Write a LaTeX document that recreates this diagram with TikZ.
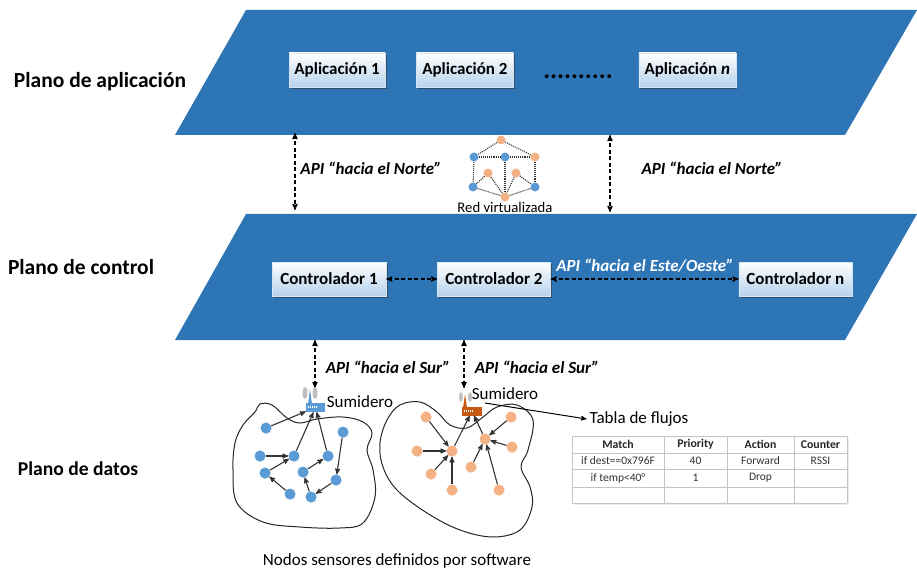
\documentclass[tikz,border=0pt]{standalone}
\usepackage{fontspec}
\setmainfont{Carlito}
\usetikzlibrary{arrows,positioning,shadows}
\definecolor{plane}{HTML}{2E75B6}
\definecolor{sblue}{HTML}{5B9BD5}
\definecolor{sorange}{HTML}{F4B183}
\definecolor{sdark}{HTML}{C55A11}
\definecolor{grid}{HTML}{BFC5CC}
\tikzstyle{layer}=[fill=plane, draw=none]
\tikzstyle{box}=[draw=white!75!sblue, top color=white, bottom color=sblue!45, drop shadow={shadow xshift=1.5pt, shadow yshift=-2pt, fill=black!80, opacity=.6}, minimum height=34pt, inner sep=0pt, font=\fontsize{17}{20}\selectfont\bfseries]
\tikzstyle{title}=[font=\fontsize{21.5}{24}\selectfont\bfseries, inner sep=0pt]
\tikzstyle{api}=[font=\fontsize{17}{20}\selectfont\bfseries\itshape, inner sep=0pt]
\tikzstyle{plain}=[font=\fontsize{17}{20}\selectfont, inner sep=0pt]
\tikzstyle{cell}=[font=\fontsize{11.5}{13}\selectfont, inner sep=0pt, text=black!80]
\tikzstyle{head}=[font=\fontsize{11.8}{13}\selectfont\bfseries, inner sep=0pt, text=black!85]
\tikzstyle{sb}=[circle, fill=sblue, inner sep=0pt, minimum size=11pt, drop shadow={shadow xshift=.5pt, shadow yshift=-1pt, fill=sblue!30}]
\tikzstyle{so}=[circle, fill=sorange, inner sep=0pt, minimum size=11pt, drop shadow={shadow xshift=.5pt, shadow yshift=-1pt, fill=sorange!30}]
\tikzstyle{vb}=[circle, fill=sblue, inner sep=0pt, minimum size=9pt]
\tikzstyle{vo}=[circle, fill=sorange, inner sep=0pt, minimum size=9pt]
\tikzstyle{link}=[draw=black!80, line width=1.1pt]
\tikzstyle{api link}=[<->, dash pattern=on 4pt off 2.5pt, line width=1.2pt]
\tikzstyle{virt}=[-, densely dotted, line width=1.1pt, draw=black!80]
\begin{document}
\begin{tikzpicture}[x=1pt, y=-1pt, >=stealth', node distance=1cm]
\useasboundingbox (0,0) rectangle (917,569);
%
  \fill[layer] (246,10) -- (917,10) -- (845,135) -- (175,135) -- cycle;
  \fill[layer] (246,214) -- (917,214) -- (845,340) -- (175,340) -- cycle;
%
  \node[title] at (100,82) {Plano de aplicación};
  \node[title] at (81,267) {Plano de control};
  \node[title, font=\fontsize{19.6}{24}\selectfont\bfseries] at (78,469) {Plano de datos};
%
  \node[box, minimum width=96pt] (a1) at (337,70) {Aplicación 1};
  \node[box, minimum width=97pt] (a2) [right = 31pt of a1] {Aplicación 2};
  \node[box, minimum width=97pt] (an) [right = 125pt of a2] {Aplicación \textit{n}};
  \node[inner sep=0pt, font=\fontsize{26}{26}\selectfont\bfseries] (dots) at (578,77) {..........};
  \node[box, minimum width=114pt] (c1) at (329,279) {Controlador 1};
  \node[box, minimum width=113pt] (c2) [right = 51pt of c1] {Controlador 2};
  \node[box, minimum width=113pt] (cn) [right = 188pt of c2] {Controlador n};
%
  \coordinate (na) at (295,133);
  \coordinate (nb) at (295,210);
  \coordinate (nc) at (610,135);
  \coordinate (nd) at (610,212);
  \coordinate (sa) at (315,340);
  \coordinate (sb) at (315,388);
  \coordinate (sc) at (464,340);
  \coordinate (sd) at (464,388);
  \path[api link]
  (na) edge (nb)
  (nc) edge (nd)
  (sa) edge (sb)
  (sc) edge (sd)
  (c1) edge (c2)
  (c2) edge (cn);
%
  \node[api] at (371,168) {API “hacia el Norte”};
  \node[api] at (712,168) {API “hacia el Norte”};
  \node[api] at (388,367) {API “hacia el Sur”};
  \node[api] at (537,367) {API “hacia el Sur”};
  \node[api, text=white] at (645,266) {API “hacia el Este/Oeste”};
%
  % red virtualizada
  \node[vo] (vt) at (501,140) {};
  \node[vb] (va) at (474,157) {};
  \node[vb] (vb) at (505,157) {};
  \node[vo] (vc) at (535,157) {};
  \node[vo] (vd) at (488,173) {};
  \node[vo] (ve) at (516,173) {};
  \node[vb] (vf) at (473,187) {};
  \node[vb] (vg) at (535,187) {};
  \node[vo] (vh) at (505,197) {};
  \path[virt]
  (vt) edge (va)
  (vt) edge (vc)
  (va) edge (vb)
  (vb) edge (vc)
  (va) edge (vf)
  (vc) edge (vg)
  (vb) edge (vh)
  (vd) edge (vf)
  (vd) edge (vh)
  (ve) edge (vh)
  (ve) edge (vg)
  (vf) edge (vh)
  (vg) edge (vh);
  \node[inner sep=0pt, font=\fontsize{14.7}{16}\selectfont] at (505,207) {Red virtualizada};
%
  % regiones
  \draw[line width=1pt, black!85] plot[smooth cycle, tension=.6] coordinates {(255,412) (260,404) (272,405) (287,418) (300,423) (317,419) (343,417) (363,422) (372,433) (367,450) (373,470) (375,497) (363,523) (340,528) (300,527) (263,522) (237,503) (233,470) (235,443) (243,425)};
  \draw[line width=1pt, black!85] plot[smooth cycle, tension=.6] coordinates {(380,443) (387,420) (400,405) (420,402) (437,412) (450,425) (467,428) (483,417) (497,407) (517,405) (533,420) (528,450) (521,467) (530,487) (532,507) (520,530) (493,537) (460,530) (427,513) (397,490) (383,467)};
%
  % sumideros
  \fill[black!25] (305,393) ellipse (2.5pt and 6pt) (315,393) ellipse (2.5pt and 6pt);
  \fill[sblue] (308,404) -- (310,389) -- (312,404) -- cycle;
  \node[fill=sblue, inner sep=0pt, minimum width=19pt, minimum height=9pt] (sinka) at (315.5,407.5) {};
  \draw[white, line width=1.5pt, dash pattern=on 1pt off 1pt] (308,407) -- (318,407);
  \fill[black!25] (461,397) ellipse (2pt and 5pt) (470,397) ellipse (2pt and 5pt);
  \fill[sdark] (463,408) -- (465,394) -- (467,408) -- cycle;
  \node[fill=sdark, inner sep=0pt, minimum width=20pt, minimum height=9pt] (sinkb) at (472,411) {};
  \draw[white, line width=1.5pt, dash pattern=on 1pt off 1pt] (464,411) -- (474,411);
  \node[plain] at (360,402) {Sumidero};
  \node[plain] (sumb) at (505,394) {Sumidero};
  \node[plain, outer sep=3pt] (tabla) at (639,419) {Tabla de flujos};
%
  \node[sb] (ba) at (266,428) {};
  \node[sb] (bb) at (343,432) {};
  \node[sb] (bc) at (260,456) {};
  \node[sb] (bd) at (294,456) {};
  \node[sb] (be) at (328,456) {};
  \node[sb] (bf) at (265,473) {};
  \node[sb] (bg) at (303,472) {};
  \node[sb] (bh) at (336,480) {};
  \node[sb] (bi) at (290,494) {};
  \node[sb] (bj) at (311,497) {};
  \path[->, link]
  (ba) edge (sinka)
  (bd) edge (sinka)
  (be) edge (sinka)
  (bc) edge (bd)
  (bf) edge (bd)
  (bi) edge (bf)
  (bb) edge (bh)
  (bh) edge (bj)
  (bj) edge (bg)
  (bg) edge (be);
%
  \node[so] (oa) at (426,417) {};
  \node[so] (ob) at (511,417) {};
  \node[so] (oc) at (485,439) {};
  \node[so] (od) at (512,447) {};
  \node[so] (oe) at (452,451) {};
  \node[so] (of) at (417,451) {};
  \node[so] (og) at (471,467) {};
  \node[so] (oh) at (431,474) {};
  \node[so] (oi) at (452,490) {};
  \node[so] (oj) at (499,490) {};
  \path[->, link]
  (oa) edge (oe)
  (of) edge (oe)
  (oh) edge (oe)
  (oi) edge (oe)
  (oe) edge (sinkb)
  (oc) edge (sinkb)
  (ob) edge (oc)
  (od) edge (oc)
  (og) edge (oc)
  (oj) edge (oc);
%
  \coordinate (flow) at (485,403);
  \path[->, line width=1pt] (flow) edge (tabla.west);
%
  % tabla
  \fill[black!8] (574,438) rectangle (849,505);
  \fill[white] (572,436) rectangle (847,503);
  \foreach \y in {436,453,469,487,503}
    \draw[grid, line width=1pt] (572,\y) -- (847,\y);
  \foreach \x in {572,664,727,794,847}
    \draw[grid, line width=1pt] (\x,436) -- (\x,503);
  \node[head] at (618,444.5) {Match};
  \node[head] at (695.5,444.5) {Priority};
  \node[head] at (760.5,444.5) {Action};
  \node[head] at (820.5,444.5) {Counter};
  \node[cell] at (618,461) {if dest==0x796F};
  \node[cell] at (695.5,461) {40};
  \node[cell] at (760.5,461) {Forward};
  \node[cell] at (820.5,461) {RSSI};
  \node[cell] at (618,478) {if temp<40°};
  \node[cell] at (695.5,478) {1};
  \node[cell] at (760.5,478) {Drop};
%
  \node[font=\fontsize{17}{20}\selectfont, inner sep=0pt] at (397,561) {Nodos sensores definidos por software};
%
\end{tikzpicture}
\end{document}
